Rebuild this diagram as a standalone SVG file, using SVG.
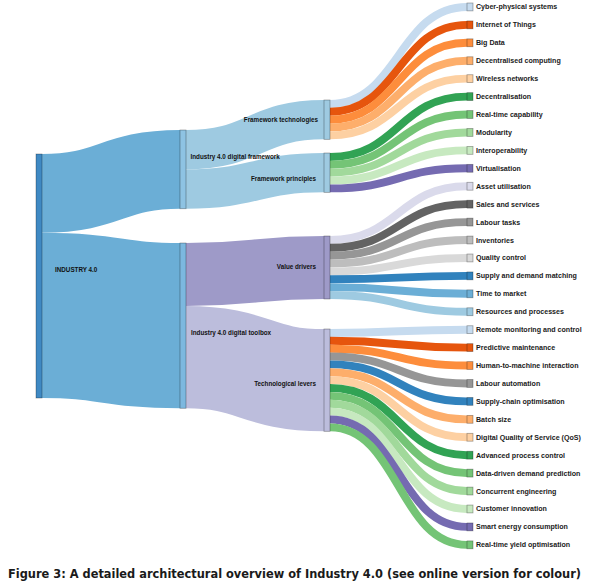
<svg xmlns="http://www.w3.org/2000/svg" width="589" height="586" viewBox="0 0 589 586">
<style>
.lk{fill:none}
.nd{stroke:#000;stroke-opacity:0.35;stroke-width:0.8}
.lf{font-family:"Liberation Sans",Arial,sans-serif;font-weight:bold;font-size:7.1px;fill:#1a1a1a}
.ml{font-family:"Liberation Sans",Arial,sans-serif;font-weight:bold;font-size:6.3px;fill:#111}
.cap{font-family:"DejaVu Sans Condensed","DejaVu Sans",sans-serif;font-stretch:condensed;font-weight:bold;font-size:11.5px;fill:#1a1a1a}
</style>
<rect width="589" height="586" fill="#fff"/>
<g id="connectors" class="lk">
<path d="M42,193.35 C111,193.35 111,169.35 180,169.35" stroke="#6baed6" stroke-width="78.71"/>
<path d="M42,315.35 C111,315.35 111,325.65 180,325.65" stroke="#6baed6" stroke-width="165.29"/>
<path d="M186,149.68 C255,149.68 255,119.68 324,119.68" stroke="#9ecae1" stroke-width="39.35"/>
<path d="M186,189.03 C255,189.03 255,172.68 324,172.68" stroke="#9ecae1" stroke-width="39.35"/>
<path d="M186,274.48 C255,274.48 255,267.48 324,267.48" stroke="#9e9ac8" stroke-width="62.97"/>
<path d="M186,357.13 C255,357.13 255,380.16 324,380.16" stroke="#bcbddc" stroke-width="102.32"/>
<g stroke-width="7.9">
<path d="M330,103.94 C398.5,103.94 398.5,6.94 467,6.94" stroke="#c6dbef"/>
<path d="M330,111.81 C398.5,111.81 398.5,24.87 467,24.87" stroke="#e6550d"/>
<path d="M330,119.68 C398.5,119.68 398.5,42.80 467,42.80" stroke="#fd8d3c"/>
<path d="M330,127.55 C398.5,127.55 398.5,60.73 467,60.73" stroke="#fdae6b"/>
<path d="M330,135.42 C398.5,135.42 398.5,78.66 467,78.66" stroke="#fdd0a2"/>
<path d="M330,156.94 C398.5,156.94 398.5,96.59 467,96.59" stroke="#31a354"/>
<path d="M330,164.81 C398.5,164.81 398.5,114.52 467,114.52" stroke="#74c476"/>
<path d="M330,172.68 C398.5,172.68 398.5,132.45 467,132.45" stroke="#a1d99b"/>
<path d="M330,180.55 C398.5,180.55 398.5,150.38 467,150.38" stroke="#c7e9c0"/>
<path d="M330,188.42 C398.5,188.42 398.5,168.31 467,168.31" stroke="#756bb1"/>
<path d="M330,239.94 C398.5,239.94 398.5,186.24 467,186.24" stroke="#dadaeb"/>
<path d="M330,247.81 C398.5,247.81 398.5,204.17 467,204.17" stroke="#636363"/>
<path d="M330,255.68 C398.5,255.68 398.5,222.10 467,222.10" stroke="#969696"/>
<path d="M330,263.55 C398.5,263.55 398.5,240.03 467,240.03" stroke="#bdbdbd"/>
<path d="M330,271.42 C398.5,271.42 398.5,257.96 467,257.96" stroke="#d9d9d9"/>
<path d="M330,279.29 C398.5,279.29 398.5,275.89 467,275.89" stroke="#3182bd"/>
<path d="M330,287.16 C398.5,287.16 398.5,293.82 467,293.82" stroke="#6baed6"/>
<path d="M330,295.03 C398.5,295.03 398.5,311.75 467,311.75" stroke="#9ecae1"/>
<path d="M330,332.94 C398.5,332.94 398.5,329.68 467,329.68" stroke="#c6dbef"/>
<path d="M330,340.81 C398.5,340.81 398.5,347.61 467,347.61" stroke="#e6550d"/>
<path d="M330,348.68 C398.5,348.68 398.5,365.54 467,365.54" stroke="#fd8d3c"/>
<path d="M330,356.55 C398.5,356.55 398.5,383.47 467,383.47" stroke="#969696"/>
<path d="M330,364.42 C398.5,364.42 398.5,401.40 467,401.40" stroke="#3182bd"/>
<path d="M330,372.29 C398.5,372.29 398.5,419.33 467,419.33" stroke="#fdae6b"/>
<path d="M330,380.16 C398.5,380.16 398.5,437.26 467,437.26" stroke="#fdd0a2"/>
<path d="M330,388.03 C398.5,388.03 398.5,455.19 467,455.19" stroke="#31a354"/>
<path d="M330,395.90 C398.5,395.90 398.5,473.12 467,473.12" stroke="#74c476"/>
<path d="M330,403.77 C398.5,403.77 398.5,491.05 467,491.05" stroke="#a1d99b"/>
<path d="M330,411.64 C398.5,411.64 398.5,508.98 467,508.98" stroke="#c7e9c0"/>
<path d="M330,419.51 C398.5,419.51 398.5,526.91 467,526.91" stroke="#756bb1"/>
<path d="M330,427.38 C398.5,427.38 398.5,544.84 467,544.84" stroke="#74c476"/>
</g>
</g>
<g id="n-root"><rect class="nd" x="36" y="154" width="6" height="244" fill="#3f89c3"/><text class="ml" x="55" y="269.3" dy="0.35em">INDUSTRY 4.0</text></g>
<g id="n-framework"><rect class="nd" x="180" y="130" width="6" height="78.71" fill="#8ec3e3"/><text class="ml" x="190.5" y="156.7" dy="0.35em">Industry 4.0 digital framework</text></g>
<g id="n-toolbox"><rect class="nd" x="180" y="243" width="6" height="165.29" fill="#7cb8df"/><text class="ml" x="191" y="332.7" dy="0.35em">Industry 4.0 digital toolbox</text></g>
<g id="n-ft"><rect class="nd" x="324" y="100" width="6" height="39.35" fill="#9ecae1"/><text class="ml" x="318" y="119.5" dy="0.35em" text-anchor="end">Framework technologies</text></g>
<g id="n-fp"><rect class="nd" x="324" y="153" width="6" height="39.35" fill="#9ecae1"/><text class="ml" x="316" y="178.3" dy="0.35em" text-anchor="end">Framework principles</text></g>
<g id="n-vd"><rect class="nd" x="324" y="236" width="6" height="62.97" fill="#9e9ac8"/><text class="ml" x="316" y="266.7" dy="0.35em" text-anchor="end">Value drivers</text></g>
<g id="n-tl"><rect class="nd" x="324" y="329" width="6" height="102.32" fill="#bcbddc"/><text class="ml" x="316" y="384" dy="0.35em" text-anchor="end">Technological levers</text></g>
<g id="n-l0"><rect class="nd" x="467" y="3.00" width="6" height="7.87" fill="#c6dbef"/><text class="lf" x="476" y="6.94" dy="0.35em">Cyber-physical systems</text></g>
<g id="n-l1"><rect class="nd" x="467" y="20.93" width="6" height="7.87" fill="#e6550d"/><text class="lf" x="476" y="24.87" dy="0.35em">Internet of Things</text></g>
<g id="n-l2"><rect class="nd" x="467" y="38.86" width="6" height="7.87" fill="#fd8d3c"/><text class="lf" x="476" y="42.80" dy="0.35em">Big Data</text></g>
<g id="n-l3"><rect class="nd" x="467" y="56.79" width="6" height="7.87" fill="#fdae6b"/><text class="lf" x="476" y="60.73" dy="0.35em">Decentralised computing</text></g>
<g id="n-l4"><rect class="nd" x="467" y="74.72" width="6" height="7.87" fill="#fdd0a2"/><text class="lf" x="476" y="78.66" dy="0.35em">Wireless networks</text></g>
<g id="n-l5"><rect class="nd" x="467" y="92.65" width="6" height="7.87" fill="#31a354"/><text class="lf" x="476" y="96.59" dy="0.35em">Decentralisation</text></g>
<g id="n-l6"><rect class="nd" x="467" y="110.58" width="6" height="7.87" fill="#74c476"/><text class="lf" x="476" y="114.52" dy="0.35em">Real-time capability</text></g>
<g id="n-l7"><rect class="nd" x="467" y="128.51" width="6" height="7.87" fill="#a1d99b"/><text class="lf" x="476" y="132.45" dy="0.35em">Modularity</text></g>
<g id="n-l8"><rect class="nd" x="467" y="146.44" width="6" height="7.87" fill="#c7e9c0"/><text class="lf" x="476" y="150.38" dy="0.35em">Interoperability</text></g>
<g id="n-l9"><rect class="nd" x="467" y="164.37" width="6" height="7.87" fill="#756bb1"/><text class="lf" x="476" y="168.31" dy="0.35em">Virtualisation</text></g>
<g id="n-l10"><rect class="nd" x="467" y="182.30" width="6" height="7.87" fill="#dadaeb"/><text class="lf" x="476" y="186.24" dy="0.35em">Asset utilisation</text></g>
<g id="n-l11"><rect class="nd" x="467" y="200.23" width="6" height="7.87" fill="#636363"/><text class="lf" x="476" y="204.17" dy="0.35em">Sales and services</text></g>
<g id="n-l12"><rect class="nd" x="467" y="218.16" width="6" height="7.87" fill="#969696"/><text class="lf" x="476" y="222.10" dy="0.35em">Labour tasks</text></g>
<g id="n-l13"><rect class="nd" x="467" y="236.09" width="6" height="7.87" fill="#bdbdbd"/><text class="lf" x="476" y="240.03" dy="0.35em">Inventories</text></g>
<g id="n-l14"><rect class="nd" x="467" y="254.02" width="6" height="7.87" fill="#d9d9d9"/><text class="lf" x="476" y="257.96" dy="0.35em">Quality control</text></g>
<g id="n-l15"><rect class="nd" x="467" y="271.95" width="6" height="7.87" fill="#3182bd"/><text class="lf" x="476" y="275.89" dy="0.35em">Supply and demand matching</text></g>
<g id="n-l16"><rect class="nd" x="467" y="289.88" width="6" height="7.87" fill="#6baed6"/><text class="lf" x="476" y="293.82" dy="0.35em">Time to market</text></g>
<g id="n-l17"><rect class="nd" x="467" y="307.81" width="6" height="7.87" fill="#9ecae1"/><text class="lf" x="476" y="311.75" dy="0.35em">Resources and processes</text></g>
<g id="n-l18"><rect class="nd" x="467" y="325.74" width="6" height="7.87" fill="#c6dbef"/><text class="lf" x="476" y="329.68" dy="0.35em">Remote monitoring and control</text></g>
<g id="n-l19"><rect class="nd" x="467" y="343.67" width="6" height="7.87" fill="#e6550d"/><text class="lf" x="476" y="347.61" dy="0.35em">Predictive maintenance</text></g>
<g id="n-l20"><rect class="nd" x="467" y="361.60" width="6" height="7.87" fill="#fd8d3c"/><text class="lf" x="476" y="365.54" dy="0.35em">Human-to-machine interaction</text></g>
<g id="n-l21"><rect class="nd" x="467" y="379.53" width="6" height="7.87" fill="#969696"/><text class="lf" x="476" y="383.47" dy="0.35em">Labour automation</text></g>
<g id="n-l22"><rect class="nd" x="467" y="397.46" width="6" height="7.87" fill="#3182bd"/><text class="lf" x="476" y="401.40" dy="0.35em">Supply-chain optimisation</text></g>
<g id="n-l23"><rect class="nd" x="467" y="415.39" width="6" height="7.87" fill="#fdae6b"/><text class="lf" x="476" y="419.33" dy="0.35em">Batch size</text></g>
<g id="n-l24"><rect class="nd" x="467" y="433.32" width="6" height="7.87" fill="#fdd0a2"/><text class="lf" x="476" y="437.26" dy="0.35em">Digital Quality of Service (QoS)</text></g>
<g id="n-l25"><rect class="nd" x="467" y="451.25" width="6" height="7.87" fill="#31a354"/><text class="lf" x="476" y="455.19" dy="0.35em">Advanced process control</text></g>
<g id="n-l26"><rect class="nd" x="467" y="469.18" width="6" height="7.87" fill="#74c476"/><text class="lf" x="476" y="473.12" dy="0.35em">Data-driven demand prediction</text></g>
<g id="n-l27"><rect class="nd" x="467" y="487.11" width="6" height="7.87" fill="#a1d99b"/><text class="lf" x="476" y="491.05" dy="0.35em">Concurrent engineering</text></g>
<g id="n-l28"><rect class="nd" x="467" y="505.04" width="6" height="7.87" fill="#c7e9c0"/><text class="lf" x="476" y="508.98" dy="0.35em">Customer innovation</text></g>
<g id="n-l29"><rect class="nd" x="467" y="522.97" width="6" height="7.87" fill="#756bb1"/><text class="lf" x="476" y="526.91" dy="0.35em">Smart energy consumption</text></g>
<g id="n-l30"><rect class="nd" x="467" y="540.90" width="6" height="7.87" fill="#74c476"/><text class="lf" x="476" y="544.84" dy="0.35em">Real-time yield optimisation</text></g>
<text class="cap" x="8" y="577.5" textLength="573" lengthAdjust="spacingAndGlyphs">Figure 3: A detailed architectural overview of Industry 4.0 (see online version for colour)</text>
</svg>
